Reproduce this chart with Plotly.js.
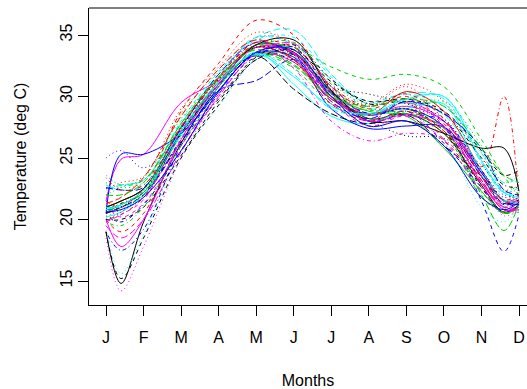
<!DOCTYPE html>
<html>
<head>
<meta charset="utf-8">
<script src="https://cdn.plot.ly/plotly-3.0.1.min.js"></script>
<style>html,body{margin:0;padding:0;overflow:hidden;background:#fff;}#chart{width:527px;height:389px;}</style>
</head>
<body>
<div id="chart"></div>
<script>
// Month tick labels and their positions (month index)
const monthLabels = ['J','F','M','A','M','J','J','A','S','O','N','D'];
const monthTicks = [1,2,3,4,5,6,7,8,9,10,11,12];
// Sample positions (month index) at which each curve was read
const samplePos = [1, 1.4, 2, 3, 4, 5, 6, 7, 8, 9, 10, 11, 11.6, 12];

// Temperature curves (deg C), one array per station
const s01 = [19.0, 14.8, 19.8, 26.2, 30.8, 34.2, 33.6, 30.4, 28.2, 28.6, 27.0, 22.8, 20.6, 21.2];
const s02 = [21.5, 21.0, 22.5, 28.8, 32.7, 36.2, 35.0, 30.8, 29.0, 30.0, 27.8, 23.5, 21.0, 21.5];
const s03 = [23.0, 22.6, 23.0, 28.6, 32.0, 34.6, 33.2, 31.0, 29.3, 29.8, 28.6, 25.4, 22.4, 22.4];
const s04 = [20.3, 19.8, 21.2, 25.6, 30.2, 33.2, 33.0, 30.0, 28.0, 28.8, 26.2, 22.6, 20.6, 21.3];
const s05 = [22.5, 22.8, 23.2, 27.6, 31.6, 34.8, 35.4, 31.8, 29.4, 30.3, 29.8, 24.6, 22.2, 22.6];
const s06 = [21.5, 24.9, 25.3, 29.5, 31.3, 33.5, 32.8, 29.8, 28.6, 29.2, 28.0, 23.8, 21.5, 21.8];
const s07 = [19.0, 15.2, 18.5, 25.0, 29.3, 33.0, 33.4, 30.5, 28.6, 29.0, 27.2, 22.6, 20.5, 21.0];
const s08 = [20.2, 20.8, 21.8, 26.6, 31.4, 34.8, 34.3, 30.6, 29.2, 30.8, 28.0, 22.8, 20.5, 21.2];
const s09 = [23.6, 22.8, 23.2, 27.8, 31.3, 33.4, 32.3, 29.4, 28.9, 28.6, 27.0, 22.2, 21.0, 22.2];
const s10 = [20.8, 21.0, 22.0, 26.3, 30.5, 31.3, 33.0, 30.3, 28.6, 29.0, 27.6, 23.5, 21.2, 21.6];
const s11 = [20.2, 20.6, 22.0, 26.8, 30.8, 33.6, 31.0, 28.4, 27.8, 29.0, 29.4, 23.6, 21.6, 21.4];
const s12 = [21.2, 20.2, 21.3, 26.0, 30.2, 34.0, 33.6, 30.3, 28.0, 29.8, 27.6, 23.2, 20.8, 21.2];
const s13 = [20.0, 20.6, 22.2, 27.0, 30.8, 33.6, 32.8, 29.4, 28.0, 26.8, 26.6, 24.4, 22.2, 21.6];
const s14 = [20.0, 20.4, 21.8, 27.0, 31.6, 34.2, 33.6, 30.0, 28.5, 29.0, 27.0, 24.3, 30.0, 21.4];
const s15 = [21.0, 21.5, 22.5, 27.0, 31.0, 33.5, 32.5, 29.8, 28.5, 29.0, 27.5, 22.0, 19.1, 21.3];
const s16 = [20.5, 25.3, 25.3, 27.0, 30.5, 33.5, 33.2, 29.0, 27.4, 27.6, 27.5, 23.8, 21.5, 21.2];
const s17 = [22.8, 22.4, 22.8, 28.0, 32.0, 34.8, 34.2, 31.4, 29.6, 30.2, 29.2, 25.6, 22.2, 22.0];
const s18 = [18.5, 14.2, 17.8, 25.0, 30.0, 33.5, 34.0, 30.5, 28.5, 29.5, 27.5, 22.8, 20.3, 20.8];
const s19 = [20.8, 21.3, 22.2, 26.3, 29.8, 33.2, 34.2, 31.4, 29.4, 29.6, 28.6, 25.0, 22.8, 22.6];
const s20 = [21.3, 21.8, 23.4, 28.4, 32.2, 34.6, 33.0, 29.4, 28.0, 28.8, 27.2, 23.2, 20.8, 21.0];
const s21 = [20.6, 21.2, 22.2, 27.2, 31.2, 34.2, 33.8, 30.2, 28.8, 28.4, 25.8, 22.3, 20.5, 21.0];
const s22 = [20.5, 21.0, 22.0, 26.5, 30.5, 33.5, 33.5, 30.0, 28.5, 29.0, 27.5, 21.5, 17.4, 20.4];
const s23 = [19.5, 15.6, 18.8, 25.2, 29.2, 33.0, 34.0, 30.5, 28.5, 29.0, 26.5, 21.0, 19.8, 21.0];
const s24 = [20.5, 21.0, 22.5, 27.0, 31.0, 34.0, 32.3, 28.0, 26.4, 27.0, 26.5, 23.0, 21.0, 21.5];
const s25 = [20.5, 21.0, 22.0, 27.0, 31.0, 33.3, 30.6, 28.6, 27.8, 28.5, 26.0, 23.5, 21.3, 21.6];
const s26 = [21.0, 21.5, 22.5, 27.5, 31.5, 34.0, 33.0, 29.8, 28.5, 30.4, 28.8, 24.0, 21.5, 21.5];
const s27 = [21.0, 21.5, 22.5, 27.5, 31.5, 34.0, 34.0, 32.4, 31.4, 31.8, 30.8, 26.5, 23.5, 22.0];
const s28 = [25.0, 25.6, 24.2, 27.0, 31.0, 34.0, 33.0, 30.0, 28.5, 29.0, 28.0, 24.0, 22.0, 22.0];
const s29 = [22.4, 22.8, 23.2, 27.8, 31.8, 34.6, 34.8, 31.6, 29.0, 29.8, 30.0, 25.4, 23.0, 23.4];
const s30 = [19.5, 18.5, 20.0, 25.5, 30.0, 33.5, 34.3, 30.8, 28.5, 29.5, 28.0, 23.5, 21.0, 20.8];
const s31 = [21.0, 21.5, 22.5, 27.0, 31.0, 34.2, 34.6, 30.5, 28.0, 28.0, 27.0, 25.8, 25.8, 22.3];
const s32 = [20.0, 19.0, 20.5, 26.5, 31.0, 34.0, 33.5, 30.0, 28.5, 29.5, 26.5, 23.0, 20.8, 20.8];
const s33 = [22.0, 22.6, 23.4, 28.2, 31.4, 33.4, 33.2, 30.6, 29.0, 29.2, 29.6, 26.0, 23.0, 23.6];
const s34 = [19.0, 17.5, 19.2, 26.0, 30.5, 33.5, 34.0, 30.3, 28.0, 28.5, 28.0, 24.0, 21.5, 21.0];
const s35 = [21.0, 21.0, 22.0, 27.0, 31.0, 33.5, 31.8, 29.0, 28.5, 29.5, 28.5, 24.0, 21.5, 21.5];
const s36 = [20.0, 17.8, 20.0, 26.5, 31.0, 34.0, 33.5, 30.0, 28.0, 28.5, 27.5, 23.0, 20.8, 20.8];
const s37 = [20.0, 20.0, 21.0, 25.2, 29.6, 33.0, 33.8, 31.2, 29.6, 29.8, 28.8, 25.6, 23.6, 24.0];
const s38 = [22.5, 23.0, 23.5, 29.0, 32.4, 35.2, 34.2, 30.2, 29.4, 31.0, 29.6, 24.8, 22.4, 22.8];
const s39 = [19.8, 19.5, 21.0, 26.0, 30.4, 34.0, 34.4, 31.0, 28.2, 28.6, 27.4, 21.8, 20.6, 20.6];
const s40 = [22.6, 22.4, 22.6, 27.4, 31.8, 34.4, 33.4, 29.6, 28.2, 29.6, 28.6, 25.8, 22.4, 22.0];
const s41 = [20.8, 21.2, 22.4, 27.2, 31.2, 33.4, 31.6, 29.2, 28.6, 29.8, 30.0, 24.8, 22.2, 21.8];
const s42 = [19.8, 20.4, 21.6, 27.2, 31.2, 34.4, 33.4, 29.6, 27.6, 28.4, 26.4, 22.4, 21.4, 21.6];
const s43 = [20.6, 21.0, 22.4, 27.4, 31.4, 34.0, 33.4, 30.8, 30.2, 29.4, 28.2, 24.0, 21.8, 22.2];
const s44 = [23.4, 22.4, 22.8, 27.6, 31.6, 34.4, 34.0, 30.8, 29.2, 30.2, 28.2, 23.6, 21.6, 22.0];
const s45 = [22.0, 22.0, 23.0, 27.8, 31.6, 33.8, 32.6, 30.0, 29.2, 29.8, 29.2, 25.8, 23.6, 23.0];
const s46 = [20.6, 20.8, 21.8, 25.6, 30.4, 33.6, 33.8, 30.0, 27.6, 28.0, 26.0, 21.8, 20.8, 21.4];

const stations = [s01,s02,s03,s04,s05,s06,s07,s08,s09,s10,s11,s12,s13,s14,s15,s16,s17,s18,s19,s20,s21,s22,s23,
                  s24,s25,s26,s27,s28,s29,s30,s31,s32,s33,s34,s35,s36,s37,s38,s39,s40,s41,s42,s43,s44,s45,s46];

// R matplot default cycles
const palette = ['#000000','#FF0000','#00CD00','#0000FF','#00FFFF','#FF00FF'];
const dashes = ['solid','4px,4px','1px,3px','1px,3px,4px,3px','7px,3px'];

const traces = stations.map((vals, i) => ({
  type: 'scatter', mode: 'lines',
  x: samplePos, y: vals,
  line: {color: palette[i % 6], dash: dashes[i % 5], width: 1, shape: 'spline', smoothing: 1},
  hoverinfo: 'skip', showlegend: false
}));

const fontFam = 'Liberation Sans, Arial, Helvetica, sans-serif';
const layout = {
  width: 527, height: 389,
  margin: {l: 89, r: 0, t: 8, b: 84},
  paper_bgcolor: '#ffffff', plot_bgcolor: '#ffffff',
  font: {family: fontFam, size: 16, color: '#000000'},
  showlegend: false,
  xaxis: {
    range: [0.547, 12.213], tickmode: 'array', tickvals: monthTicks, ticktext: monthLabels,
    showgrid: false, zeroline: false, showline: true, linecolor: '#000000', linewidth: 1,
    ticks: 'outside', ticklen: 10, tickcolor: '#000000', tickwidth: 1, ticklabelstandoff: 8,
    tickfont: {family: fontFam, size: 16, color: '#000000'},
    title: {text: 'Months', font: {family: fontFam, size: 16, color: '#000000'}, standoff: 30}
  },
  yaxis: {
    range: [13.049, 37.195], tickmode: 'array', tickvals: [15,20,25,30,35], ticktext: ['15','20','25','30','35'],
    tickangle: -90,
    showgrid: false, zeroline: false, showline: true, linecolor: '#000000', linewidth: 1,
    ticks: 'outside', ticklen: 10, tickcolor: '#000000', tickwidth: 1,
    tickfont: {family: fontFam, size: 16, color: '#000000'},
    title: {text: 'Temperature (deg C)', font: {family: fontFam, size: 16, color: '#000000'}, standoff: 26}
  },
  shapes: [
    {type: 'line', xref: 'paper', yref: 'paper', x0: 0, x1: 1.05, y0: 1, y1: 1, line: {color: '#000000', width: 1}}
  ]
};

Plotly.newPlot('chart', traces, layout, {staticPlot: true, displayModeBar: false});
</script>
</body>
</html>
